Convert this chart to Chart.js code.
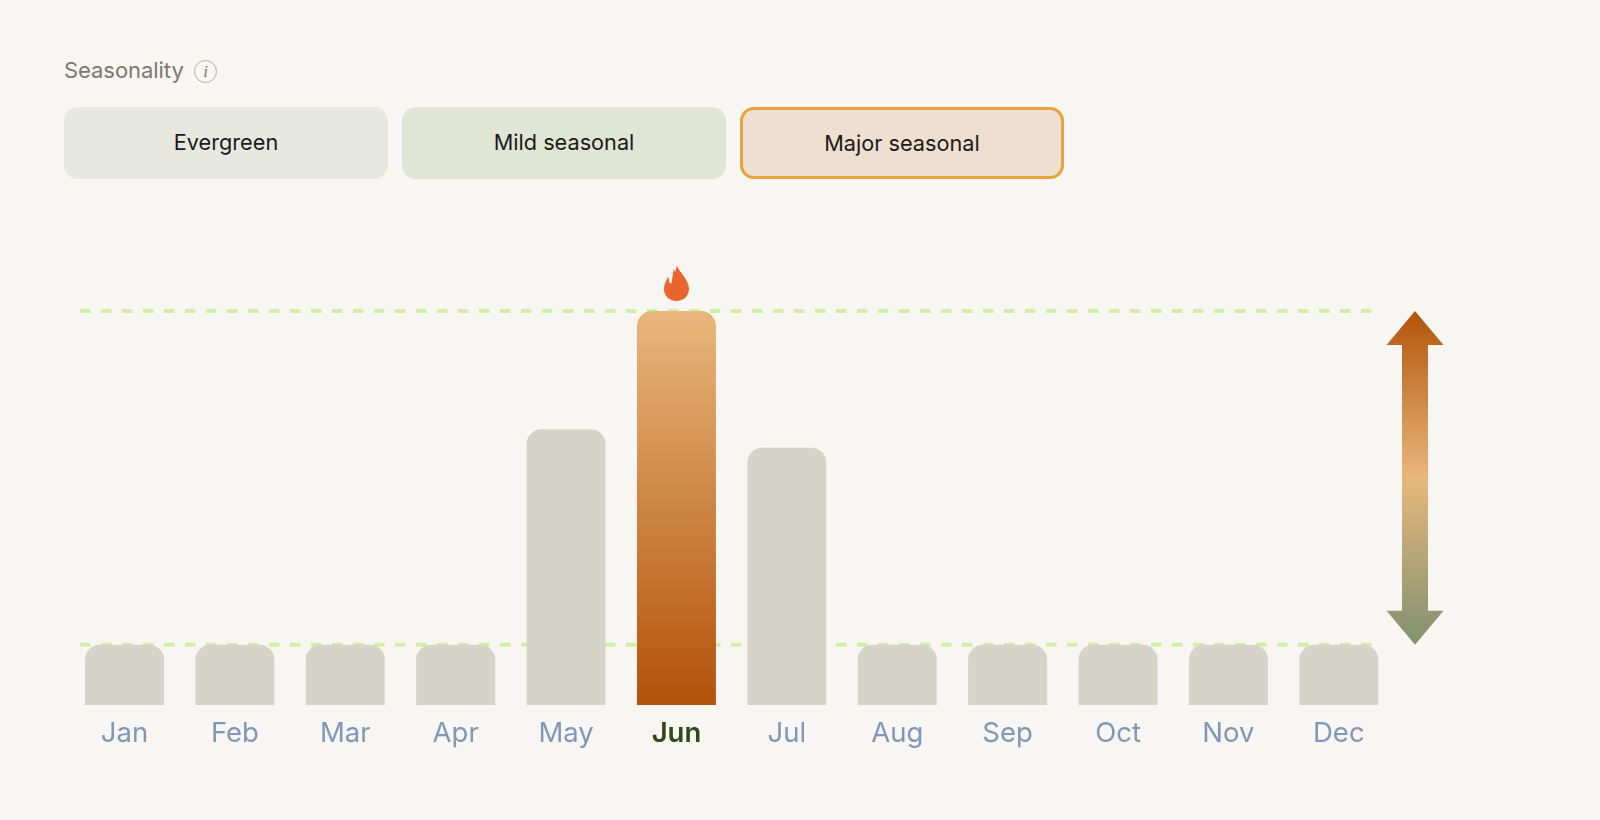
<!DOCTYPE html>
<html>
<head>
<meta charset="utf-8">
<title>Seasonality</title>
<script src="https://cdn.jsdelivr.net/npm/chart.js@4"></script>
<style>
    html, body { margin: 0; padding: 0; background: #f8f6f2; }
    body { width: 1600px; height: 820px; position: relative; overflow: hidden; font-family: Inter, "Noto Sans", sans-serif; }
    #chart { position: absolute; left: 0; top: 0; }
    .title { position: absolute; left: 64px; top: 55px; font-size: 22px; line-height: 30px; color: #7d7870; letter-spacing: -0.05px; }
    .info { position: absolute; left: 194px; top: 60px; width: 21px; height: 21px; border: 1px solid #b3afa8; border-radius: 50%;
        font: italic 17px/21px "Liberation Serif", serif; color: #7d7870; text-align: center; }
    .btn { position: absolute; top: 107px; width: 324px; height: 72px; box-sizing: border-box; border-radius: 14px;
        font-size: 21.7px; line-height: 71px; text-align: center; color: #1b1b1b; }
    .b1 { left: 64px; background: #e7e8df; }
    .b2 { left: 402px; background: #e1e5d6; }
    .b3 { left: 740px; background: #efdfd1; border: 3px solid #e8a33d; line-height: 66px; }
</style>
</head>
<body>
<div class="title">Seasonality</div>
<div class="info">i</div>
<div class="btn b1">Evergreen</div>
<div class="btn b2">Mild seasonal</div>
<div class="btn b3">Major seasonal</div>
<canvas id="chart" width="1600" height="820"></canvas>
<script>
const months = ["Jan", "Feb", "Mar", "Apr", "May", "Jun", "Jul", "Aug", "Sep", "Oct", "Nov", "Dec"];
const monthValues = [15.3, 15.3, 15.3, 15.3, 70, 100, 65.3, 15.3, 15.3, 15.3, 15.3, 15.3];
const peakMonth = "Jun";
const upperLevel = 100;
const lowerLevel = 15.3;

// dashed lines go under the bars
const levelLines = {
    id: "levelLines",
    beforeDatasetsDraw(chart) {
        const { ctx, scales } = chart;
        ctx.save();
        ctx.strokeStyle = "#cdf0a4";
        ctx.lineWidth = 4;
        ctx.setLineDash([10.5, 10.5]);
        [upperLevel, lowerLevel].forEach(level => {
            const y = scales.y.getPixelForValue(level);
            ctx.beginPath();
            ctx.moveTo(80, y);
            ctx.lineTo(1375, y);
            ctx.stroke();
        });
        ctx.restore();
    }
};

// double arrow next to the bars + flame on top of the peak
const extras = {
    id: "extras",
    afterDatasetsDraw(chart) {
        const { ctx, scales } = chart;
        const top = scales.y.getPixelForValue(upperLevel);
        const bottom = scales.y.getPixelForValue(lowerLevel);
        const cx = 1415;
        const grad = ctx.createLinearGradient(0, top, 0, bottom);
        grad.addColorStop(0, "#b2540b");
        grad.addColorStop(0.5, "#e8b77b");
        grad.addColorStop(1, "#7f9270");
        ctx.save();
        ctx.fillStyle = grad;
        ctx.beginPath();
        ctx.moveTo(cx, top);
        ctx.lineTo(cx + 28.5, top + 34);
        ctx.lineTo(cx + 13, top + 34);
        ctx.lineTo(cx + 13, bottom - 34);
        ctx.lineTo(cx + 28.5, bottom - 34);
        ctx.lineTo(cx, bottom);
        ctx.lineTo(cx - 28.5, bottom - 34);
        ctx.lineTo(cx - 13, bottom - 34);
        ctx.lineTo(cx - 13, top + 34);
        ctx.lineTo(cx - 28.5, top + 34);
        ctx.closePath();
        ctx.fill();

        const bar = chart.getDatasetMeta(0).data[months.indexOf(peakMonth)];
        ctx.translate(bar.x, bar.y - 10);
        ctx.fillStyle = "#e9642f";
        ctx.beginPath();
        ctx.moveTo(0.5, -35.5);
        ctx.bezierCurveTo(3, -28, 12.5, -22, 12.5, -12);
        ctx.bezierCurveTo(12.5, -5, 7, 0, 0, 0);
        ctx.bezierCurveTo(-7, 0, -12.5, -5, -12.5, -12);
        ctx.bezierCurveTo(-12.5, -16, -10.5, -20, -8.2, -24.5);
        ctx.lineTo(-7, -18);
        ctx.lineTo(-5, -17.5);
        ctx.lineTo(-2.8, -32);
        ctx.lineTo(-1.2, -29);
        ctx.closePath();
        ctx.fill();
        ctx.restore();
    }
};

function barColor(context) {
    if (months[context.dataIndex] !== peakMonth) return "#d6d4c8";
    const area = context.chart.chartArea;
    if (!area) return "#d6d4c8";
    const grad = context.chart.ctx.createLinearGradient(0, area.top, 0, area.bottom);
    grad.addColorStop(0, "#e8b77b");
    grad.addColorStop(1, "#b2520a");
    return grad;
}

new Chart(document.getElementById("chart").getContext("2d"), {
    type: "bar",
    data: {
        labels: months,
        datasets: [{
            data: monthValues,
            backgroundColor: barColor,
            borderRadius: { topLeft: 15, topRight: 15, bottomLeft: 0, bottomRight: 0 },
            borderSkipped: false,
            barPercentage: 1,
            categoryPercentage: 0.7156
        }]
    },
    options: {
        responsive: false,
        animation: false,
        events: [],
        layout: { padding: { left: 69.3, right: 206, top: 311, bottom: 58 } },
        plugins: { legend: { display: false }, tooltip: { enabled: false } },
        scales: {
            x: {
                grid: { display: false, drawTicks: false },
                border: { display: false },
                ticks: {
                    padding: 12,
                    maxRotation: 0,
                    autoSkip: false,
                    color: c => months[c.index] === peakMonth ? "#2f4a16" : "#7f97b8",
                    font: c => ({
                        family: "Inter",
                        size: 27.5,
                        weight: months[c.index] === peakMonth ? "600" : "400"
                    })
                }
            },
            y: { display: false, min: 0, max: 100 }
        }
    },
    plugins: [levelLines, extras]
});
</script>
</body>
</html>
